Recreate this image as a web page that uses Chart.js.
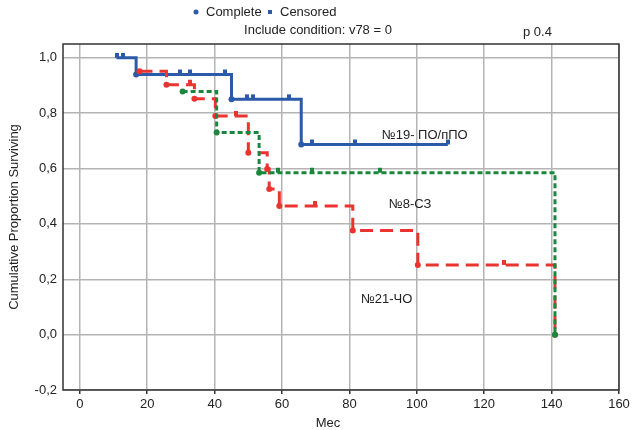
<!DOCTYPE html>
<html>
<head>
<meta charset="utf-8">
<script src="https://cdn.jsdelivr.net/npm/chart.js@4"></script>
<style>
  html, body { margin: 0; padding: 0; background: #fff; }
  canvas { display: block; }
</style>
</head>
<body>
<canvas id="kmChart" width="635" height="430"></canvas>
<script>
// axis ticks
const xTicks = [0, 20, 40, 60, 80, 100, 120, 140, 160];
const yTicks = [-0.2, 0, 0.2, 0.4, 0.6, 0.8, 1.0];

// group ПО/пПО (n=19)
const poLabel = "№19- ПО/пПО";
const poTime = [10.9, 12.9, 16.7, 29.6, 32.8, 43.1, 45.0, 49.5, 51.5, 62.0, 65.7, 69.0, 81.6, 109.2];
const poSurv = [1.0, 1.0, 0.94, 0.94, 0.94, 0.94, 0.85, 0.85, 0.85, 0.85, 0.687, 0.687, 0.687, 0.687];
const poCens = [1, 1, 0, 1, 1, 1, 0, 1, 1, 1, 0, 1, 1, 1];

// group ЧО (n=21)
const choLabel = "№21-ЧО";
const choTime = [17.7, 25.7, 32.8, 34.0, 40.2, 46.4, 50.0, 55.6, 56.2, 59.2, 69.7, 81.0, 100.3, 126.0, 141.0];
const choSurv = [0.952, 0.903, 0.903, 0.852, 0.79, 0.79, 0.657, 0.598, 0.526, 0.465, 0.465, 0.376, 0.252, 0.252, 0.0];
const choCens = [0, 0, 1, 0, 0, 1, 0, 0, 0, 0, 1, 0, 0, 1, 0];

// group СЗ (n=8)
const szLabel = "№8-СЗ";
const szTime = [30.5, 40.6, 53.2, 58.8, 69.0, 89.2, 141.0];
const szSurv = [0.878, 0.73, 0.585, 0.585, 0.585, 0.585, 0.0];
const szCens = [0, 0, 0, 1, 1, 1, 0];

const BLUE = "#2b5aa8";
const RED = "#ea3430";
const GREEN = "#1b873c";
const FONT = '"Liberation Sans", Arial, sans-serif';

// censored mark: small bar sitting on top of the line
function tickMark(color) {
  const c = document.createElement("canvas");
  c.width = 4;
  c.height = 12;
  const g = c.getContext("2d");
  g.fillStyle = color;
  g.fillRect(0, 1, 4, 5);
  return c;
}

function group(times, surv, cens, color, dash) {
  const mark = tickMark(color);
  return {
    data: times.map((t, i) => ({ x: t, y: surv[i] })),
    showLine: true,
    stepped: true,
    borderColor: color,
    borderWidth: 3,
    borderDash: dash,
    backgroundColor: color,
    pointBorderColor: color,
    pointBackgroundColor: color,
    pointRadius: 3,
    pointBorderWidth: 0,
    pointStyle: ctx => cens[ctx.dataIndex] ? mark : "circle"
  };
}

const textPlugin = {
  id: "texts",
  afterDraw(chart) {
    const { ctx, chartArea: a, scales: { x, y } } = chart;
    ctx.save();
    ctx.strokeStyle = "#333";
    ctx.lineWidth = 1.5;
    ctx.strokeRect(a.left, a.top, a.right - a.left, a.bottom - a.top);

    ctx.fillStyle = "#222";
    ctx.font = "13px " + FONT;
    ctx.textBaseline = "middle";

    // header legend
    ctx.fillStyle = BLUE;
    ctx.beginPath();
    ctx.arc(196, 12, 2.5, 0, Math.PI * 2);
    ctx.fill();
    ctx.fillRect(268, 10, 4, 4);
    ctx.fillStyle = "#222";
    ctx.textAlign = "left";
    ctx.fillText("Complete", 206, 12);
    ctx.fillText("Censored", 280, 12);
    ctx.textAlign = "center";
    ctx.fillText("Include condition: v78 = 0", 318, 30);
    ctx.textAlign = "left";
    ctx.fillText("p 0.4", 523, 32);

    // group labels
    ctx.fillText(poLabel, x.getPixelForValue(89.6), y.getPixelForValue(0.72));
    ctx.fillText(szLabel, x.getPixelForValue(91.7), y.getPixelForValue(0.472));
    ctx.fillText(choLabel, x.getPixelForValue(83.4), y.getPixelForValue(0.126));

    // axis titles
    ctx.textAlign = "center";
    ctx.fillText("Мес", 328, 423);
    ctx.translate(14, (a.top + a.bottom) / 2);
    ctx.rotate(-Math.PI / 2);
    ctx.fillText("Cumulative Proportion Surviving", 0, 0);
    ctx.restore();
  }
};

new Chart(document.getElementById("kmChart"), {
  type: "scatter",
  data: {
    datasets: [
      group(szTime, szSurv, szCens, GREEN, [5, 3]),
      group(choTime, choSurv, choCens, RED, [13, 7]),
      group(poTime, poSurv, poCens, BLUE, [])
    ]
  },
  options: {
    responsive: false,
    animation: false,
    layout: { padding: { top: 44, right: 16, left: 0, bottom: 0 } },
    plugins: { legend: { display: false }, tooltip: { enabled: false } },
    scales: {
      x: {
        type: "linear",
        min: -5,
        max: 160,
        afterBuildTicks: s => { s.ticks = xTicks.map(v => ({ value: v })); },
        afterFit: s => { s.height = 40; },
        grid: { color: "#b4b4b4", lineWidth: 1.5, tickLength: 4, tickColor: "#333" },
        border: { display: false },
        ticks: { color: "#222", font: { family: FONT, size: 13 }, padding: 3, maxRotation: 0 }
      },
      y: {
        type: "linear",
        min: -0.2,
        max: 1.05,
        afterBuildTicks: s => { s.ticks = yTicks.map(v => ({ value: v })); },
        afterFit: s => { s.width = 63; },
        grid: { color: "#b4b4b4", lineWidth: 1.5, tickLength: 0 },
        border: { display: false },
        ticks: {
          color: "#222",
          font: { family: FONT, size: 13 },
          padding: 6,
          callback: v => v.toFixed(1).replace(".", ",")
        }
      }
    }
  },
  plugins: [textPlugin]
});
</script>
</body>
</html>
